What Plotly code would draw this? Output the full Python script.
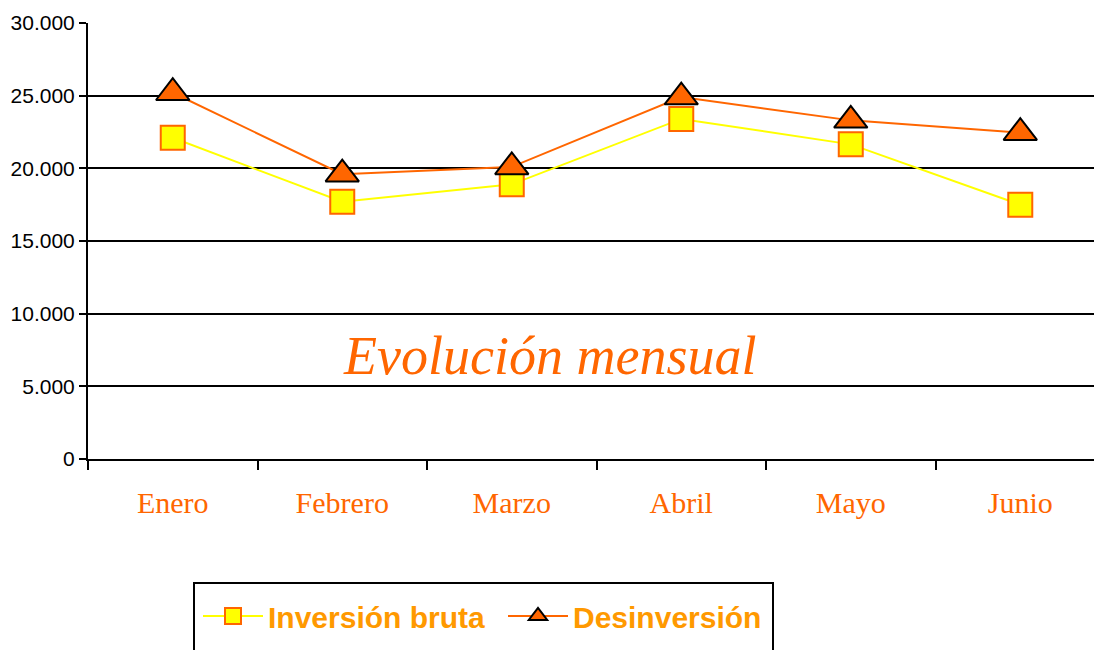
import plotly.graph_objects as go

months = ["Enero", "Febrero", "Marzo", "Abril", "Mayo", "Junio"]
inversion_bruta = [22100, 17700, 18900, 23400, 21650, 17500]
desinversion = [25200, 19600, 20100, 24900, 23300, 22450]
y_ticks = [0, 5000, 10000, 15000, 20000, 25000, 30000]

fig = go.Figure()
fig.add_trace(go.Scatter(
    x=months, y=inversion_bruta, name="Inversión bruta", mode="lines+markers",
    line=dict(color="#FFFF00", width=2),
    marker=dict(symbol="square", size=24, color="#FFFF00",
                line=dict(color="#FF6600", width=2)),
))
fig.add_trace(go.Scatter(
    x=months, y=desinversion, name="Desinversión", mode="lines+markers",
    line=dict(color="#FF6600", width=2),
    marker=dict(symbol="triangle-up", size=29, color="#FF6600",
                line=dict(color="#000000", width=2)),
))

fig.add_annotation(
    text="Evolución mensual", xref="paper", yref="paper",
    x=0.459, y=0.236, xanchor="center", yanchor="middle", showarrow=False,
    font=dict(family="Liberation Serif, Times New Roman, serif", size=54,
              color="#FF6600", style="italic"),
)

# legend frame (bottom runs past the page edge, as in the original)
fig.add_shape(type="rect", xref="paper", yref="paper",
              x0=(194 - 88) / 1006, x1=(773 - 88) / 1006,
              y0=(459 - 670) / 436, y1=(459 - 583) / 436,
              line=dict(color="#000000", width=2), fillcolor="rgba(0,0,0,0)")

fig.update_layout(
    width=1094, height=650,
    margin=dict(l=88, r=0, t=23, b=191, autoexpand=False),
    paper_bgcolor="white", plot_bgcolor="white",
    separators=",.",
    showlegend=True,
    legend=dict(
        orientation="h", x=(198 - 88) / 1006, y=(459 - 590) / 436,
        xanchor="left", yanchor="top",
        font=dict(family="Liberation Sans, Arial, sans-serif", size=30,
                  color="#FF9900", weight="bold"),
        borderwidth=0, bgcolor="rgba(0,0,0,0)",
        itemwidth=60,
        entrywidth=230, entrywidthmode="pixels",
    ),
    xaxis=dict(
        type="category", range=[-0.5, 5.435],
        showline=True, linecolor="black", linewidth=2,
        ticks="outside", tickson="boundaries", ticklen=9, tickwidth=2, tickcolor="black",
        showgrid=False, zeroline=False,
        tickfont=dict(family="Liberation Serif, Times New Roman, serif", size=30, color="#FF6600"),
        ticklabelstandoff=16,
    ),
    yaxis=dict(
        range=[0, 30000], tickvals=y_ticks, tickformat=",d",
        showline=True, linecolor="black", linewidth=2,
        ticks="outside", ticklen=7, tickwidth=2, tickcolor="black",
        showgrid=True, gridcolor="black", gridwidth=2, zeroline=False,
        tickfont=dict(family="Liberation Sans, Arial, sans-serif", size=21, color="black"),
        ticklabelstandoff=0,
    ),
)

fig.write_html("out.html",
               config={"displayModeBar": False},
               post_script="document.body.style.margin='0';document.body.style.overflow='hidden';")
